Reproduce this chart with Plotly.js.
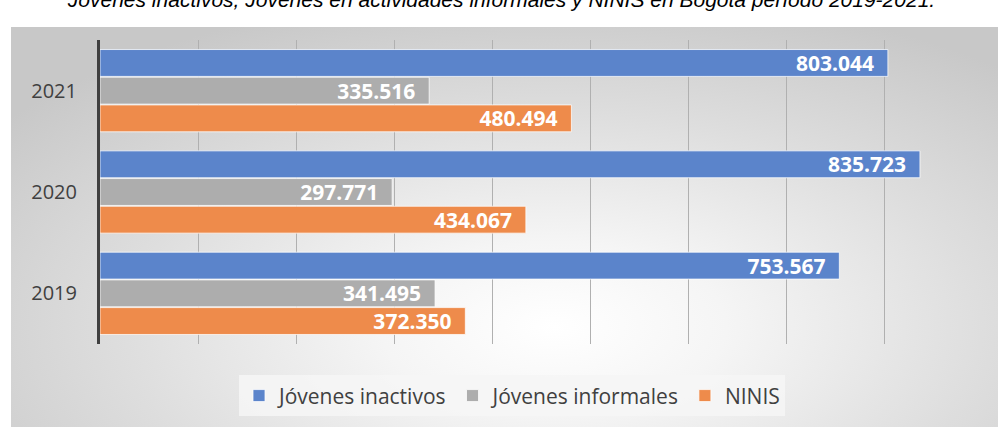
<!DOCTYPE html>
<html>
<head>
<meta charset="utf-8">
<script src="https://cdn.plot.ly/plotly-3.0.1.min.js"></script>
<style>
  html, body { margin: 0; padding: 0; background: #ffffff; }
  #wrap { position: relative; width: 1003px; height: 427px; }
  #bg { position: absolute; left: 11px; top: 27px; width: 987px; height: 400px;
        background: radial-gradient(ellipse 70% 85% at 55% 75%, #ffffff 0%, #f5f5f5 25%, #dedede 62%, #c8c8c8 100%); }
  #chart { position: absolute; left: 0; top: 0; width: 1003px; height: 427px; }
</style>
</head>
<body>
<div id="wrap"><div id="bg"></div><div id="chart"></div></div>
<script>
const years = ['2021', '2020', '2019'];
const inactivos = [803044, 835723, 753567];
const informales = [335516, 297771, 341495];
const ninis = [480494, 434067, 372350];
const seriesNames = ['Jóvenes inactivos', 'Jóvenes informales', 'NINIS'];
const seriesColors = ['#5b84cb', '#adadad', '#ee8b4b'];
const titleText = 'Jóvenes inactivos, Jóvenes en actividades informales y NINIS en Bogotá período 2019-2021.';

const seriesValues = [inactivos, informales, ninis];
const traces = seriesValues.map((vals, i) => ({
  type: 'bar',
  orientation: 'h',
  name: seriesNames[i],
  y: years,
  x: vals,
  marker: { color: seriesColors[i], line: { color: 'rgba(255,255,255,0.75)', width: 1 } },
  texttemplate: '%{x:,}\u00a0\u00a0',
  textposition: 'inside',
  insidetextanchor: 'end',
  constraintext: 'none',
  textangle: 0,
  textfont: { family: 'Open Sans', size: 21, color: '#ffffff', weight: 'bold' },
  hoverinfo: 'x+name'
}));

const layout = {
  width: 1003, height: 427,
  margin: { l: 100, r: 20, t: 40, b: 82 },
  paper_bgcolor: 'rgba(0,0,0,0)',
  plot_bgcolor: 'rgba(0,0,0,0)',
  separators: ',.',
  barmode: 'group',
  bargap: 0.18,
  bargroupgap: 0.03,
  title: {
    text: '<i>' + titleText + '</i>',
    font: { family: 'Liberation Sans', size: 21, color: '#000000' },
    x: 0.5, xanchor: 'center',
    y: 1.0, yref: 'container', yanchor: 'middle'
  },
  xaxis: {
    range: [0, 900000],
    dtick: 100000,
    showticklabels: false,
    showgrid: true,
    gridcolor: '#b0b0b0',
    gridwidth: 1,
    zeroline: false,
    showline: false,
    fixedrange: true
  },
  yaxis: {
    type: 'category',
    categoryorder: 'array',
    categoryarray: years,
    autorange: 'reversed',
    showline: true,
    linecolor: '#404040',
    linewidth: 3,
    showgrid: false,
    ticks: '',
    ticklabelstandoff: 16,
    tickfont: { family: 'Open Sans', size: 20, color: '#404040' },
    fixedrange: true
  },
  legend: {
    orientation: 'h',
    x: 0.4666, xanchor: 'center',
    y: -0.167, yanchor: 'middle',
    bgcolor: 'rgba(246,246,246,0.85)',
    font: { family: 'Open Sans', size: 21, color: '#404040' },
    itemclick: false
  },
  showlegend: true
};

Plotly.newPlot('chart', traces, layout, { displayModeBar: false, staticPlot: true });
</script>
</body>
</html>
